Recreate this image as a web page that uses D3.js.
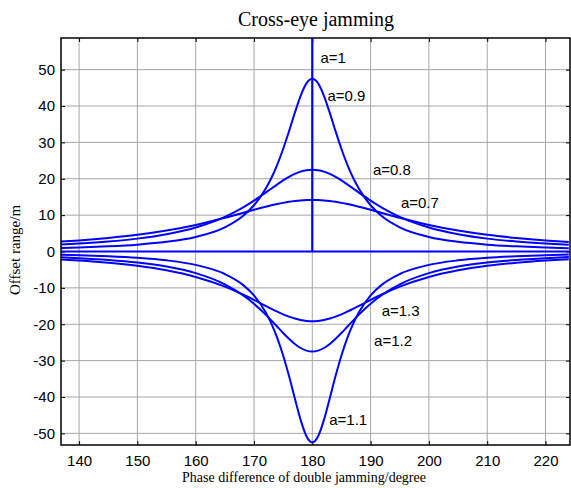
<!DOCTYPE html>
<html>
<head>
<meta charset="utf-8">
<script src="https://cdn.jsdelivr.net/npm/d3@7"></script>
<style>
  body { margin: 0; background: #fff; }
  svg { display: block; }
  .tick text { font-family: Arial, "Liberation Sans", sans-serif; font-size: 15px; fill: #000; }
  .tick line { stroke: #000; }
  .domain { display: none; }
</style>
</head>
<body>
<svg id="chart" width="571" height="488"></svg>
<script>
// phase difference (deg) and offset range (m) for each amplitude ratio a
const phase = [136,140,145,150,155,160,165,168,170,172,173,174,175,176,177,178,179,180,
               181,182,183,184,185,186,187,188,190,192,195,200,205,210,215,220,224];

const a07 = [2.64,3.05,3.72,4.59,5.76,7.31,9.26,10.57,11.46,12.30,12.69,13.05,13.37,13.65,13.87,14.03,14.13,14.17,
             14.13,14.03,13.87,13.65,13.37,13.05,12.69,12.30,11.46,10.57,9.26,7.31,5.76,4.59,3.72,3.05,2.64];
const a08 = [1.84,2.17,2.73,3.54,4.74,6.59,9.52,12.01,14.00,16.20,17.33,18.46,19.53,20.50,21.33,21.96,22.36,22.50,
             22.36,21.96,21.33,20.50,19.53,18.46,17.33,16.20,14.00,12.01,9.52,6.59,4.74,3.54,2.73,2.17,1.84];
const a09 = [0.92,1.10,1.42,1.89,2.66,4.01,6.66,9.63,12.72,17.26,20.28,23.92,28.19,33.02,38.10,42.81,46.23,47.50,
             46.23,42.81,38.10,33.02,28.19,23.92,20.28,17.26,12.72,9.63,6.66,4.01,2.66,1.89,1.42,1.10,0.92];
const a11 = [-0.84,-1.00,-1.29,-1.72,-2.43,-3.68,-6.18,-9.04,-12.09,-16.71,-19.89,-23.81,-28.58,-34.18,-40.34,-46.30,-50.80,-52.50,
             -50.80,-46.30,-40.34,-34.18,-28.58,-23.81,-19.89,-16.71,-12.09,-9.04,-6.18,-3.68,-2.43,-1.72,-1.29,-1.00,-0.84];
const a12 = [-1.54,-1.83,-2.32,-3.04,-4.15,-5.95,-9.03,-11.90,-14.39,-17.36,-19.00,-20.70,-22.39,-23.99,-25.41,-26.53,-27.25,-27.50,
             -27.25,-26.53,-25.41,-23.99,-22.39,-20.70,-19.00,-17.36,-14.39,-11.90,-9.03,-5.95,-4.15,-3.04,-2.32,-1.83,-1.54];
const a13 = [-2.10,-2.47,-3.08,-3.94,-5.17,-6.99,-9.66,-11.75,-13.32,-14.96,-15.77,-16.55,-17.27,-17.91,-18.44,-18.84,-19.08,-19.17,
             -19.08,-18.84,-18.44,-17.91,-17.27,-16.55,-15.77,-14.96,-13.32,-11.75,-9.66,-6.99,-5.17,-3.94,-3.08,-2.47,-2.10];

// a=1: zero everywhere, blows up at exactly 180 deg
const phaseA10 = [136,180,180,180,224];
const a10      = [0,0,1000,0,0];

const xTicks = [140,150,160,170,180,190,200,210,220];
const yTicks = [-50,-40,-30,-20,-10,0,10,20,30,40,50];

// curve labels: text, phase, offset
const labelText = ['a=1','a=0.9','a=0.8','a=0.7','a=1.3','a=1.2','a=1.1'];
const labelX    = [181.4,182.6,190.4,195.2,191.9,190.6,182.9];
const labelY    = [51.8,41.4,21.0,11.9,-17.6,-26.1,-47.7];

// ------------------------------------------------------------
const svg = d3.select('#chart');
const L = 61, R = 570, T = 38, B = 445;

const x = d3.scaleLinear().domain([136.9, 224.2]).range([L, R]);
const y = d3.scaleLinear().domain([-53.2, 58.7]).range([B, T]);

svg.append('defs').append('clipPath').attr('id', 'clip')
  .append('rect').attr('x', L).attr('y', T).attr('width', R - L).attr('height', B - T);

// grid
const grid = svg.append('g');
grid.selectAll('line.gx').data(xTicks).join('line')
  .attr('x1', d => x(d)).attr('x2', d => x(d)).attr('y1', T).attr('y2', B)
  .attr('stroke', '#a6a6a6').attr('stroke-width', 1);
grid.selectAll('line.gy').data(yTicks).join('line')
  .attr('y1', d => y(d)).attr('y2', d => y(d)).attr('x1', L).attr('x2', R)
  .attr('stroke', '#a6a6a6').attr('stroke-width', 1);

// axes (ticks point inward)
const fmt = d => String(d);
svg.append('g').attr('transform', `translate(0,${B})`)
  .call(d3.axisBottom(x).tickValues(xTicks).tickSizeInner(-4).tickSizeOuter(0).tickPadding(10).tickFormat(fmt));
svg.append('g').attr('transform', `translate(0,${T})`)
  .call(d3.axisTop(x).tickValues(xTicks).tickSizeInner(-4).tickSizeOuter(0).tickFormat(''));
svg.append('g').attr('transform', `translate(${L},0)`)
  .call(d3.axisLeft(y).tickValues(yTicks).tickSizeInner(-4).tickSizeOuter(0).tickPadding(6).tickFormat(fmt));
svg.append('g').attr('transform', `translate(${R},0)`)
  .call(d3.axisRight(y).tickValues(yTicks).tickSizeInner(-4).tickSizeOuter(0).tickFormat(''));

// curves
const series = [a07, a08, a09, a11, a12, a13];
const smooth = d3.line().x((d, i) => x(phase[i])).y(d => y(d)).curve(d3.curveMonotoneX);
const straight = d3.line().x((d, i) => x(phaseA10[i])).y(d => y(d));

const plot = svg.append('g').attr('clip-path', 'url(#clip)');
plot.selectAll('path.curve').data(series).join('path')
  .attr('class', 'curve')
  .attr('d', smooth)
  .attr('fill', 'none').attr('stroke', '#0000ff').attr('stroke-width', 2);
plot.append('path').datum(a10)
  .attr('d', straight)
  .attr('fill', 'none').attr('stroke', '#0000ff').attr('stroke-width', 2.2);

// frame
svg.append('rect').attr('x', L).attr('y', T).attr('width', R - L).attr('height', B - T)
  .attr('fill', 'none').attr('stroke', '#000').attr('stroke-width', 1.5);

// labels on curves
svg.selectAll('text.lab').data(labelText).join('text')
  .attr('class', 'lab')
  .attr('x', (d, i) => x(labelX[i])).attr('y', (d, i) => y(labelY[i]))
  .attr('font-family', 'Arial, "Liberation Sans", sans-serif').attr('font-size', 15)
  .text(d => d);

// title and axis titles
svg.append('text').attr('x', 316).attr('y', 26).attr('text-anchor', 'middle')
  .attr('font-family', '"Times New Roman", "Liberation Serif", serif').attr('font-size', 20)
  .text('Cross-eye jamming');
svg.append('text').attr('x', 304).attr('y', 482).attr('text-anchor', 'middle')
  .attr('font-family', '"Times New Roman", "Liberation Serif", serif').attr('font-size', 14)
  .text('Phase difference of double jamming/degree');
svg.append('text').attr('transform', 'translate(20,250) rotate(-90)').attr('text-anchor', 'middle')
  .attr('font-family', '"Times New Roman", "Liberation Serif", serif').attr('font-size', 15)
  .text('Offset range/m');
</script>
</body>
</html>
